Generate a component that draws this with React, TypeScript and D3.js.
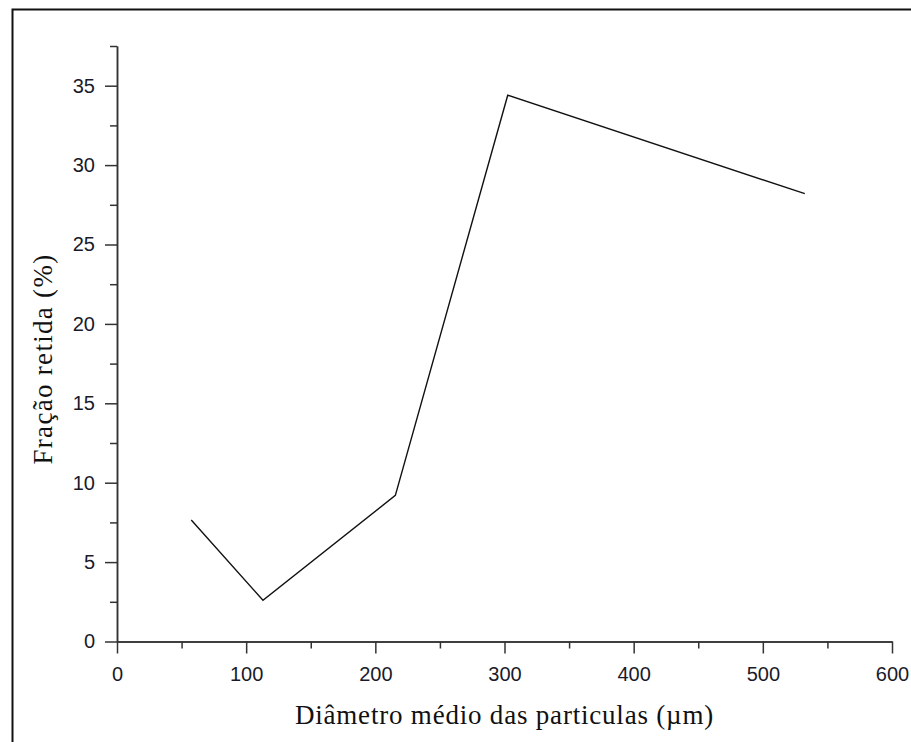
import React, { useEffect, useRef } from 'react'
import * as d3 from 'd3'

const WIDTH = 911
const HEIGHT = 742
const margin = { top: 46, right: 19, bottom: 100.5, left: 117 }

// diâmetro médio (µm) e fração retida (%)
const diameters = [57.5, 113, 215.5, 302.5, 532.5]
const retained = [7.65, 2.6, 9.2, 34.4, 28.2]

const xTicks = [0, 100, 200, 300, 400, 500, 600]
const xMinorTicks = [50, 150, 250, 350, 450, 550]
const yTicks = [0, 5, 10, 15, 20, 25, 30, 35]
const yMinorTicks = [2.5, 7.5, 12.5, 17.5, 22.5, 27.5, 32.5, 37.5]

const xLabel = 'Diâmetro médio das particulas (µm)'
const yLabel = 'Fração retida (%)'

export default function App() {
  const gRef = useRef<SVGGElement>(null)

  useEffect(() => {
    const chartWidth = WIDTH - margin.left - margin.right
    const chartHeight = HEIGHT - margin.top - margin.bottom
    const x = d3.scaleLinear().domain([0, 600]).range([0, chartWidth])
    const y = d3.scaleLinear().domain([0, 37.5]).range([chartHeight, 0])

    const g = d3.select(gRef.current)
    g.selectAll('*').remove()

    const styleAxis = (sel: any) => {
      sel.select('.domain').attr('stroke', '#333').attr('stroke-width', 1.5)
      sel.selectAll('.tick line').attr('stroke', '#333').attr('stroke-width', 1.5)
      sel.selectAll('.tick text')
        .attr('fill', '#1a1a2a')
        .style('font-family', '"Liberation Sans", Arial, sans-serif')
        .style('font-size', '20px')
    }

    // minor ticks first, no labels
    g.append('g')
      .attr('transform', `translate(0, ${chartHeight})`)
      .call(d3.axisBottom(x).tickValues(xMinorTicks).tickSize(7).tickSizeOuter(0).tickFormat(() => ''))
      .call(styleAxis)
    g.append('g')
      .call(d3.axisLeft(y).tickValues(yMinorTicks).tickSize(7).tickSizeOuter(0).tickFormat(() => ''))
      .call(styleAxis)

    g.append('g')
      .attr('transform', `translate(0, ${chartHeight})`)
      .call(d3.axisBottom(x).tickValues(xTicks).tickSize(12).tickSizeOuter(0).tickPadding(13).tickFormat(d3.format('d')))
      .call(styleAxis)
    g.append('g')
      .call(d3.axisLeft(y).tickValues(yTicks).tickSize(12).tickSizeOuter(0).tickPadding(10).tickFormat(d3.format('d')))
      .call(styleAxis)

    const line = d3.line<number>()
      .x((d, i) => x(diameters[i]))
      .y(d => y(d))

    g.append('path')
      .datum(retained)
      .attr('fill', 'none')
      .attr('stroke', '#111')
      .attr('stroke-width', 1.4)
      .attr('d', line)

    g.append('text')
      .attr('x', chartWidth / 2)
      .attr('y', chartHeight + 82)
      .attr('text-anchor', 'middle')
      .attr('fill', '#111')
      .style('font-family', '"Liberation Serif", "Times New Roman", serif')
      .style('font-size', '27px')
      .style('letter-spacing', '0.8px')
      .text(xLabel)

    g.append('text')
      .attr('transform', `translate(${52 - margin.left}, ${359 - margin.top}) rotate(-90)`)
      .attr('text-anchor', 'middle')
      .attr('fill', '#111')
      .style('font-family', '"Liberation Serif", "Times New Roman", serif')
      .style('font-size', '27px')
      .style('letter-spacing', '1.3px')
      .text(yLabel)
  }, [])

  return (
    <svg width={WIDTH} height={HEIGHT} style={{ position: 'absolute', left: 0, top: 0, background: '#fff' }}>
      <rect x={12.5} y={9.5} width={WIDTH + 10} height={HEIGHT + 10} fill="none" stroke="#111" strokeWidth={2} />
      <g ref={gRef} transform={`translate(${margin.left}, ${margin.top})`} />
    </svg>
  )
}
